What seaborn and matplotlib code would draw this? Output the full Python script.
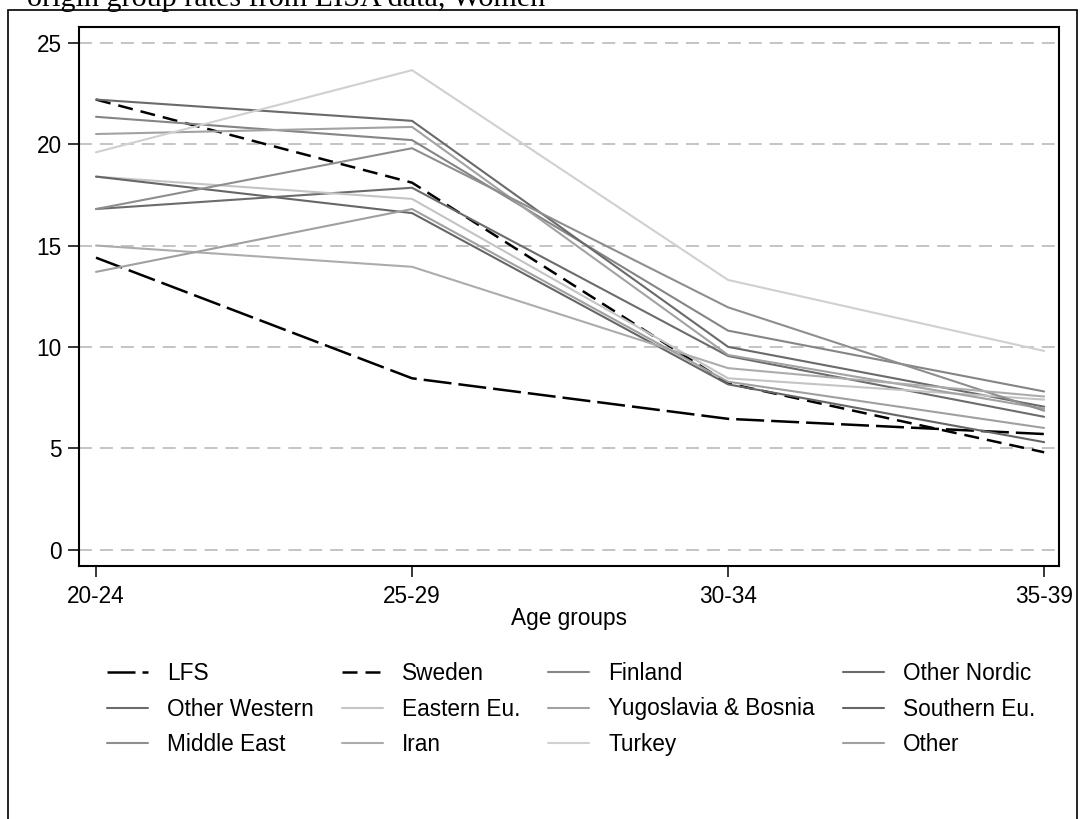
import matplotlib
matplotlib.use("Agg")
import matplotlib.pyplot as plt
import pandas as pd
import seaborn as sns
from matplotlib.patches import Rectangle

# Age groups on the x axis
age_groups = ["20-24", "25-29", "30-34", "35-39"]

# Series names, in legend order
groups = ["LFS", "Sweden", "Finland", "Other Nordic", "Other Western", "Eastern Eu.",
          "Yugoslavia & Bosnia", "Southern Eu.", "Middle East", "Iran", "Turkey", "Other"]

# Rates per age group
lfs = [14.4, 8.45, 6.45, 5.7]
sweden = [22.2, 18.1, 8.2, 4.8]
finland = [21.35, 20.2, 10.8, 7.8]
other_nordic = [22.2, 21.15, 10.0, 7.05]
other_western = [16.8, 17.85, 9.55, 6.55]
eastern_eu = [18.4, 17.3, 8.45, 7.4]
yugoslavia_bosnia = [20.5, 20.85, 9.6, 6.95]
southern_eu = [18.4, 16.6, 8.15, 5.3]
middle_east = [16.8, 19.8, 11.95, 6.85]
iran = [15.0, 13.95, 8.95, 7.55]
turkey = [19.6, 23.65, 13.3, 9.8]
other = [13.7, 16.8, 8.28, 6.0]

y_ticks = [0, 5, 10, 15, 20, 25]

series = [lfs, sweden, finland, other_nordic, other_western, eastern_eu,
          yugoslavia_bosnia, southern_eu, middle_east, iran, turkey, other]

df = pd.DataFrame(
    [(g, a, v) for g, vals in zip(groups, series) for a, v in zip(age_groups, vals)],
    columns=["group", "age", "rate"],
)

palette = {
    "LFS": "#000000", "Sweden": "#000000", "Finland": "#858585",
    "Other Nordic": "#6a6a6a", "Other Western": "#6c6c6c", "Eastern Eu.": "#c4c4c4",
    "Yugoslavia & Bosnia": "#a2a2a2", "Southern Eu.": "#666666", "Middle East": "#8e8e8e",
    "Iran": "#acacac", "Turkey": "#d0d0d0", "Other": "#a0a0a0",
}
dashes = {g: "" for g in groups}
dashes["LFS"] = (11.2, 2.8)
dashes["Sweden"] = (6.0, 3.2)
sizes = {g: 1.5 for g in groups}
sizes["LFS"] = 1.8
sizes["Sweden"] = 1.8

sns.set_theme(style="white")
plt.rcParams["font.family"] = ["Liberation Sans", "DejaVu Sans"]
plt.rcParams["text.color"] = "black"
plt.rcParams["axes.labelcolor"] = "black"
plt.rcParams["xtick.color"] = "black"
plt.rcParams["ytick.color"] = "black"

fig = plt.figure(figsize=(10.8, 8.19), dpi=100)
ax = fig.add_axes([79 / 1080, 1 - 566 / 819, 980 / 1080, 539 / 819])

sns.lineplot(data=df, x="age", y="rate", hue="group", style="group", size="group",
             hue_order=groups, style_order=groups, size_order=groups,
             palette=palette, dashes=dashes, sizes=sizes, sort=False, ax=ax)

handles, labels = ax.get_legend_handles_labels()
lookup = {l: h for h, l in zip(handles, labels) if l in groups}
ax.get_legend().remove()

ax.set_xlim(-0.0538, 3.047)
ax.set_ylim(-0.81, 25.78)
ax.set_yticks(y_ticks)
ax.set_yticklabels([str(t) for t in y_ticks])
ax.set_xlabel("Age groups", fontsize=16.3, labelpad=-1, color="black")
ax.set_ylabel("")

ax.set_axisbelow(True)
ax.yaxis.grid(True, color="#b4b4b4", linewidth=1.1, linestyle=(0, (8.5, 5.2)))
ax.xaxis.grid(False)

for s in ax.spines.values():
    s.set_visible(True)
    s.set_color("black")
    s.set_linewidth(1.5)

ax.tick_params(axis="both", which="major", direction="out", length=8, width=1.1,
               colors="black", labelcolor="black", labelsize=16.3, left=True, bottom=True)
ax.tick_params(axis="y", pad=4.3)
ax.tick_params(axis="x", pad=6)

# Legend laid out row by row in four columns
nrows, ncols = 3, 4
order = [groups[r * ncols + c] for c in range(ncols) for r in range(nrows)]
leg = fig.legend([lookup[g] for g in order], order, ncol=ncols, loc="center",
                 bbox_to_anchor=(571 / 1080, 1 - 709 / 819), frameon=False, fontsize=16.3,
                 handlelength=1.8, handletextpad=0.84, columnspacing=1.25,
                 labelspacing=0.56, borderpad=0, labelcolor="black")

# Outer graph frame
fig.patches.append(Rectangle((8 / 1080, -0.02), (1077 - 8) / 1080, 1 - 10 / 819 + 0.02,
                             transform=fig.transFigure, fill=False, lw=1.2,
                             edgecolor="black"))

fig.text(27 / 1080, 1 - 6 / 819, "origin group rates from LISA data, Women",
         fontfamily="Liberation Serif", fontsize=21.7, va="baseline", ha="left",
         color="black")

fig.savefig("out.png", dpi=100, facecolor="white")
